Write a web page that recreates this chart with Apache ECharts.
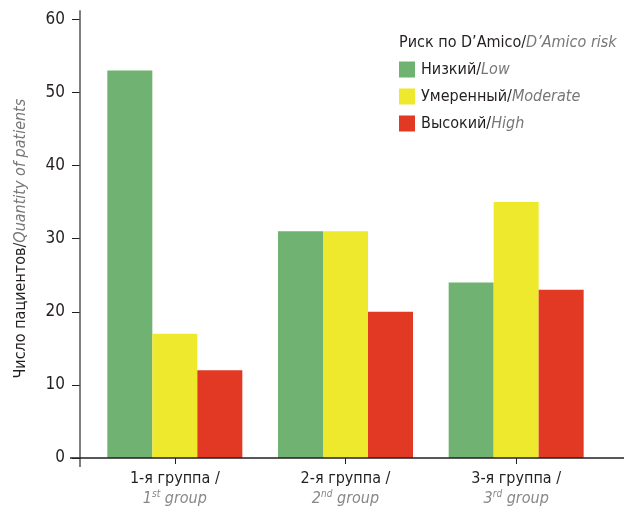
<!DOCTYPE html>
<html><head><meta charset="utf-8">
<script src="https://cdn.jsdelivr.net/npm/echarts@6/dist/echarts.min.js"></script>
<style>html,body{margin:0;padding:0;background:#fff}#c{width:624px;height:507px}</style>
</head><body><div id="c"></div>
<script>
const categoriesRu = ['1-я группа /', '2-я группа /', '3-я группа /'];
const categoriesEnNum = ['1', '2', '3'];
const categoriesEnSup = ['st', 'nd', 'rd'];
const lowValues = [53, 31, 24];
const moderateValues = [17, 31, 35];
const highValues = [12, 20, 23];
const seriesRu = ['Низкий', 'Умеренный', 'Высокий'];
const seriesEn = ['Low', 'Moderate', 'High'];
const yTicks = [0, 10, 20, 30, 40, 50, 60];

const FONT = '"Liberation Sans Narrow", "DejaVu Sans Condensed", "Noto Sans", sans-serif';
const FS = 16;
const colors = ['#70b271', '#efe92d', '#e13924'];
const chart = echarts.init(document.getElementById('c'), null, {renderer: 'canvas'});

const enMap = {};
seriesRu.forEach((r, i) => enMap[r] = seriesEn[i]);

const richPair = {
  a: {fontFamily: FONT, fontSize: FS, color: '#231f20', fontWeight: 'normal'},
  b: {fontFamily: FONT, fontSize: FS, color: '#777', fontStyle: 'italic', fontWeight: 'normal'}
};

const option = {
  animation: false,
  textStyle: {fontFamily: FONT},
  grid: {left: 89.5, right: 22.5, top: 19.3, bottom: 44.3},
  title: {
    left: 399, top: 35, padding: 0,
    text: '{a|Риск по D\u2019Amico/}{b|D\u2019Amico risk}',
    textStyle: {fontWeight: 'normal', rich: richPair}
  },
  legend: {
    orient: 'vertical', left: 399, top: 61.5, padding: 0,
    itemWidth: 16, itemHeight: 16, itemGap: 11, icon: 'rect',
    data: seriesRu,
    formatter: name => '{a|' + name + '/}{b|' + enMap[name] + '}',
    textStyle: {padding: [0, 0, 0, 1], rich: richPair}
  },
  xAxis: {
    type: 'category',
    data: categoriesRu,
    axisLine: {show: false},
    axisTick: {show: true, alignWithLabel: true, length: 6, lineStyle: {color: '#231f20', width: 1}},
    axisLabel: {
      margin: 11,
      formatter: (v, i) => '{a|' + v + '}\n{b|' + categoriesEnNum[i] + '}{s|' + categoriesEnSup[i] + '}{b| group}',
      rich: {
        a: {fontFamily: FONT, fontSize: FS, color: '#231f20', lineHeight: 20},
        b: {fontFamily: FONT, fontSize: FS, color: '#888', fontStyle: 'italic', lineHeight: 20},
        s: {fontFamily: FONT, fontSize: 10, color: '#888', fontStyle: 'italic', lineHeight: 20, verticalAlign: 'top', padding: [0, 0, 8, 0]}
      }
    }
  },
  yAxis: {
    type: 'value', min: 0, max: 60, interval: 10,
    offset: 9.5,
    axisLine: {show: false},
    axisTick: {show: true, length: 8, lineStyle: {color: '#231f20', width: 1}},
    splitLine: {show: false},
    axisLabel: {
      margin: 15, fontFamily: FONT, fontSize: FS + 1, color: '#231f20',
      formatter: v => yTicks.indexOf(v) >= 0 ? String(v) : ''
    },
    name: '{a|Число пациентов/}{b|Quantity of patients}',
    nameLocation: 'middle', nameGap: 51,
    nameTextStyle: {rich: richPair}
  },
  series: [
    {name: seriesRu[0], type: 'bar', data: lowValues, barWidth: 45, barGap: 0, itemStyle: {color: colors[0]}},
    {name: seriesRu[1], type: 'bar', data: moderateValues, barWidth: 45, barGap: 0, itemStyle: {color: colors[1]}},
    {name: seriesRu[2], type: 'bar', data: highValues, barWidth: 45, barGap: 0, itemStyle: {color: colors[2]}}
  ]
};
chart.setOption(option);

// axis lines (extended slightly beyond the plot as in the reference)
const y0 = chart.convertToPixel({yAxisIndex: 0}, 0);
const yTop = chart.convertToPixel({yAxisIndex: 0}, 60);
const axisX = 89.5 - 9.5;
chart.setOption({
  graphic: [
    {type: 'line', z: 100, shape: {x1: axisX, y1: yTop - 9, x2: axisX, y2: y0 + 9}, style: {stroke: '#555', lineWidth: 1.5}},
    {type: 'line', z: 100, shape: {x1: axisX - 10, y1: y0, x2: 624, y2: y0}, style: {stroke: '#231f20', lineWidth: 1.3}}
  ]
});
</script>
</body></html>
